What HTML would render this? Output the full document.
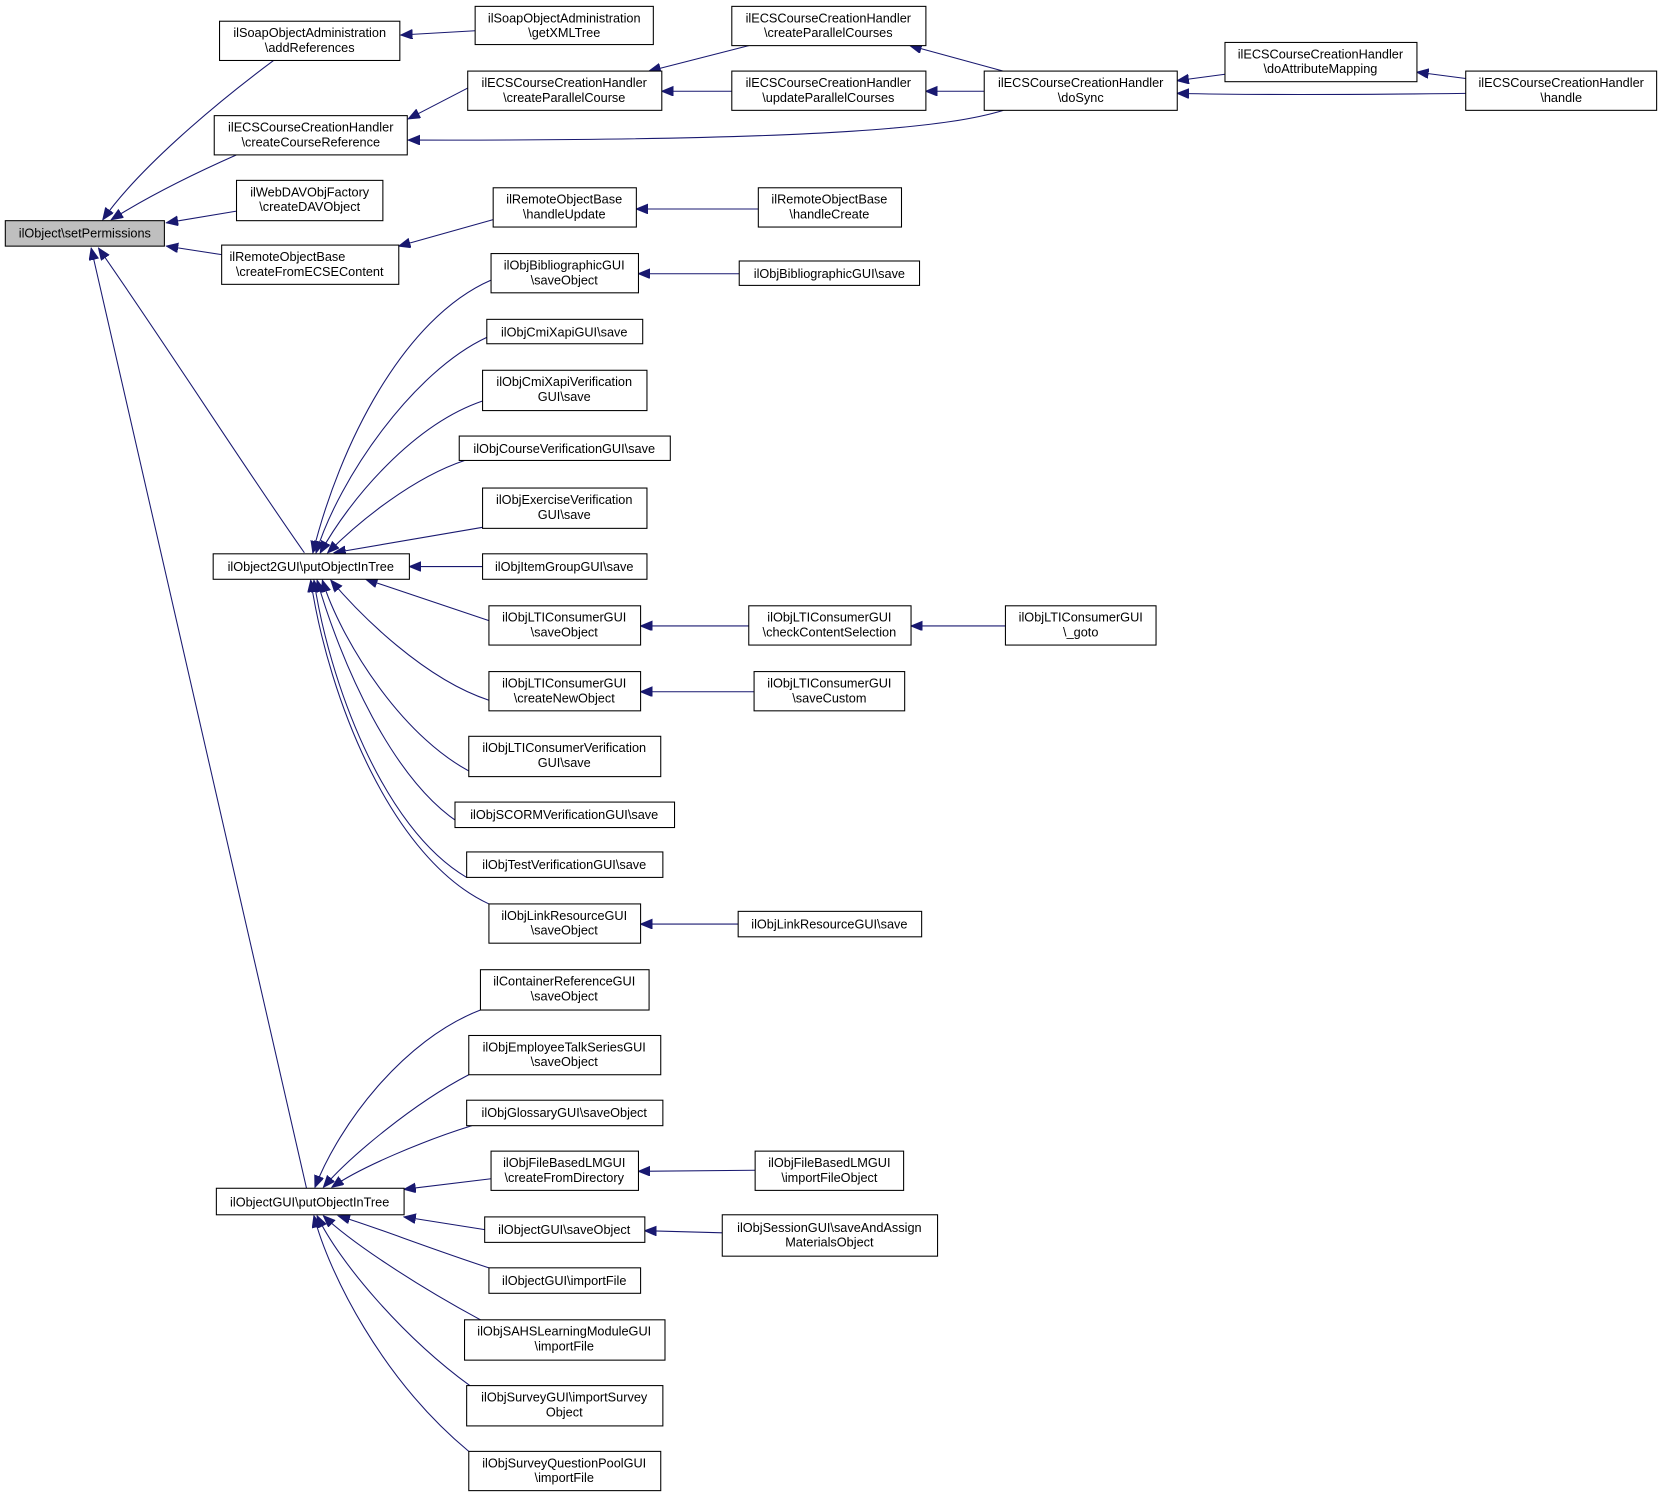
<!DOCTYPE html>
<html><head><meta charset="utf-8"><style>
html,body{margin:0;padding:0;background:#fff}
svg{display:block}
text{font-family:"Liberation Sans",sans-serif;font-size:12px;fill:#000;text-anchor:middle}
.b{fill:#fff;stroke:#000;stroke-width:1}
.e{fill:none;stroke:#191970;stroke-width:1;marker-end:url(#a)}
</style></head><body>
<svg width="1663" height="1497" viewBox="0 0 1568 1411" preserveAspectRatio="none" xmlns="http://www.w3.org/2000/svg">
<defs><marker id="a" markerUnits="userSpaceOnUse" markerWidth="12" markerHeight="10" refX="11" refY="4.5" orient="auto"><path d="M0,0 L11,4.5 L0,9 z" fill="#191970" stroke="#191970"/></marker></defs>
<g>
<path class="e" d="M258,57 C200,100 130,160 97,207"/>
<path class="e" d="M223,146 C180,165 140,185 105,207"/>
<path class="e" d="M223,199 L157,210"/>
<path class="e" d="M209,240 L157,232"/>
<path class="e" d="M287,521 C230,440 160,330 93,234"/>
<path class="e" d="M289,1120 L86,234"/>
<path class="e" d="M448,29 L378,33"/>
<path class="e" d="M441,83 L385,112"/>
<path class="e" d="M946,104 C900,118 800,133 385,132"/>
<path class="e" d="M706,43 L612,67"/>
<path class="e" d="M690,86 L624,86"/>
<path class="e" d="M946,67 L858,43"/>
<path class="e" d="M928,86 L873,86"/>
<path class="e" d="M1155,70 L1110,76"/>
<path class="e" d="M1382,74 L1336,68"/>
<path class="e" d="M1382,88 C1300,89 1200,90 1110,88"/>
<path class="e" d="M465,207 L376,232"/>
<path class="e" d="M715,197 L600,197"/>
<path class="e" d="M697,258 L602,258"/>
<path class="e" d="M463,264 C380,300 320,420 295,521"/>
<path class="e" d="M459,318 C390,350 320,450 298,521"/>
<path class="e" d="M455,378 C390,400 330,470 302,521"/>
<path class="e" d="M438,434 C390,450 340,490 309,521"/>
<path class="e" d="M455,497 L315,521"/>
<path class="e" d="M455,534 L386,534"/>
<path class="e" d="M461,585 L345,546"/>
<path class="e" d="M461,660 C400,640 340,580 312,547"/>
<path class="e" d="M453,732 C380,700 320,600 304,547"/>
<path class="e" d="M440,780 C370,740 320,620 299,547"/>
<path class="e" d="M440,827 C360,780 310,640 296,547"/>
<path class="e" d="M461,852 C370,810 310,660 293,547"/>
<path class="e" d="M706,590 L604,590"/>
<path class="e" d="M948,590 L859,590"/>
<path class="e" d="M711,652 L604,652"/>
<path class="e" d="M696,871 L604,871"/>
<path class="e" d="M453,952 C380,980 320,1060 297,1119"/>
<path class="e" d="M442,1013 C390,1040 330,1090 305,1119"/>
<path class="e" d="M445,1061 C400,1075 340,1100 313,1119"/>
<path class="e" d="M463,1111 L381,1121"/>
<path class="e" d="M457,1159 L381,1147"/>
<path class="e" d="M461,1195 C400,1175 350,1155 319,1146"/>
<path class="e" d="M453,1244 C390,1210 330,1170 305,1146"/>
<path class="e" d="M443,1306 C380,1260 320,1190 299,1146"/>
<path class="e" d="M442,1368 C360,1300 310,1200 296,1146"/>
<path class="e" d="M712,1103 L602,1104"/>
<path class="e" d="M681,1162 L608,1160"/>
</g>
<g>
<rect x="5" y="208" width="150" height="24" fill="#bfbfbf" stroke="#000"/><text x="80" y="224">ilObject\setPermissions</text>

<rect class="b" x="207" y="20" width="170" height="37"/><text x="292" y="35">ilSoapObjectAdministration</text><text x="292" y="49">\addReferences</text>
<rect class="b" x="448" y="6" width="168" height="36"/><text x="532" y="21">ilSoapObjectAdministration</text><text x="532" y="35">\getXMLTree</text>
<rect class="b" x="202" y="109" width="182" height="37"/><text x="293" y="124">ilECSCourseCreationHandler</text><text x="293" y="138">\createCourseReference</text>
<rect class="b" x="441" y="67" width="183" height="37"/><text x="532" y="82">ilECSCourseCreationHandler</text><text x="532" y="96">\createParallelCourse</text>
<rect class="b" x="690" y="6" width="183" height="37"/><text x="781" y="21">ilECSCourseCreationHandler</text><text x="781" y="35">\createParallelCourses</text>
<rect class="b" x="690" y="67" width="183" height="37"/><text x="781" y="82">ilECSCourseCreationHandler</text><text x="781" y="96">\updateParallelCourses</text>
<rect class="b" x="928" y="67" width="182" height="37"/><text x="1019" y="82">ilECSCourseCreationHandler</text><text x="1019" y="96">\doSync</text>
<rect class="b" x="1155" y="40" width="181" height="37"/><text x="1245" y="55">ilECSCourseCreationHandler</text><text x="1245" y="69">\doAttributeMapping</text>
<rect class="b" x="1382" y="67" width="180" height="37"/><text x="1472" y="82">ilECSCourseCreationHandler</text><text x="1472" y="96">\handle</text>
<rect class="b" x="223" y="170" width="138" height="38"/><text x="292" y="185">ilWebDAVObjFactory</text><text x="292" y="199">\createDAVObject</text>
<rect class="b" x="209" y="231" width="167" height="37"/><text x="271" y="246">ilRemoteObjectBase</text><text x="292" y="260">\createFromECSEContent</text>
<rect class="b" x="465" y="177" width="135" height="37"/><text x="532" y="192">ilRemoteObjectBase</text><text x="532" y="206">\handleUpdate</text>
<rect class="b" x="715" y="177" width="135" height="37"/><text x="782" y="192">ilRemoteObjectBase</text><text x="782" y="206">\handleCreate</text>
<rect class="b" x="463" y="239" width="139" height="37"/><text x="532" y="254">ilObjBibliographicGUI</text><text x="532" y="268">\saveObject</text>
<rect class="b" x="697" y="246" width="170" height="23"/><text x="782" y="262">ilObjBibliographicGUI\save</text>
<rect class="b" x="201" y="522" width="185" height="24"/><text x="293" y="538">ilObject2GUI\putObjectInTree</text>

<rect class="b" x="459" y="301" width="147" height="23"/><text x="532" y="317">ilObjCmiXapiGUI\save</text>
<rect class="b" x="455" y="349" width="155" height="38"/><text x="532" y="364">ilObjCmiXapiVerification</text><text x="532" y="378">GUI\save</text>
<rect class="b" x="433" y="411" width="199" height="23"/><text x="532" y="427">ilObjCourseVerificationGUI\save</text>
<rect class="b" x="455" y="460" width="155" height="38"/><text x="532" y="475">ilObjExerciseVerification</text><text x="532" y="489">GUI\save</text>
<rect class="b" x="455" y="522" width="155" height="24"/><text x="532" y="538">ilObjItemGroupGUI\save</text>
<rect class="b" x="461" y="571" width="143" height="37"/><text x="532" y="586">ilObjLTIConsumerGUI</text><text x="532" y="600">\saveObject</text>
<rect class="b" x="706" y="571" width="153" height="37"/><text x="782" y="586">ilObjLTIConsumerGUI</text><text x="782" y="600">\checkContentSelection</text>
<rect class="b" x="948" y="571" width="142" height="37"/><text x="1019" y="586">ilObjLTIConsumerGUI</text><text x="1019" y="600">\_goto</text>
<rect class="b" x="461" y="633" width="143" height="37"/><text x="532" y="648">ilObjLTIConsumerGUI</text><text x="532" y="662">\createNewObject</text>
<rect class="b" x="711" y="633" width="142" height="37"/><text x="782" y="648">ilObjLTIConsumerGUI</text><text x="782" y="662">\saveCustom</text>
<rect class="b" x="442" y="694" width="181" height="38"/><text x="532" y="709">ilObjLTIConsumerVerification</text><text x="532" y="723">GUI\save</text>
<rect class="b" x="429" y="756" width="207" height="24"/><text x="532" y="772">ilObjSCORMVerificationGUI\save</text>
<rect class="b" x="440" y="803" width="185" height="24"/><text x="532" y="819">ilObjTestVerificationGUI\save</text>
<rect class="b" x="461" y="852" width="143" height="37"/><text x="532" y="867">ilObjLinkResourceGUI</text><text x="532" y="881">\saveObject</text>
<rect class="b" x="696" y="859" width="173" height="24"/><text x="782" y="875">ilObjLinkResourceGUI\save</text>

<rect class="b" x="453" y="914" width="159" height="38"/><text x="532" y="929">ilContainerReferenceGUI</text><text x="532" y="943">\saveObject</text>
<rect class="b" x="442" y="976" width="181" height="37"/><text x="532" y="991">ilObjEmployeeTalkSeriesGUI</text><text x="532" y="1005">\saveObject</text>
<rect class="b" x="440" y="1037" width="185" height="24"/><text x="532" y="1053">ilObjGlossaryGUI\saveObject</text>
<rect class="b" x="463" y="1085" width="139" height="37"/><text x="532" y="1100">ilObjFileBasedLMGUI</text><text x="532" y="1114">\createFromDirectory</text>
<rect class="b" x="712" y="1085" width="140" height="37"/><text x="782" y="1100">ilObjFileBasedLMGUI</text><text x="782" y="1114">\importFileObject</text>
<rect class="b" x="204" y="1120" width="177" height="25"/><text x="292" y="1137">ilObjectGUI\putObjectInTree</text>
<rect class="b" x="457" y="1147" width="151" height="24"/><text x="532" y="1163">ilObjectGUI\saveObject</text>
<rect class="b" x="681" y="1145" width="203" height="39"/><text x="782" y="1161">ilObjSessionGUI\saveAndAssign</text><text x="782" y="1175">MaterialsObject</text>
<rect class="b" x="461" y="1195" width="143" height="24"/><text x="532" y="1211">ilObjectGUI\importFile</text>
<rect class="b" x="438" y="1244" width="189" height="38"/><text x="532" y="1259">ilObjSAHSLearningModuleGUI</text><text x="532" y="1273">\importFile</text>
<rect class="b" x="440" y="1306" width="185" height="38"/><text x="532" y="1321">ilObjSurveyGUI\importSurvey</text><text x="532" y="1335">Object</text>
<rect class="b" x="442" y="1368" width="181" height="37"/><text x="532" y="1383">ilObjSurveyQuestionPoolGUI</text><text x="532" y="1397">\importFile</text>
</g>
</svg>
</body></html>
